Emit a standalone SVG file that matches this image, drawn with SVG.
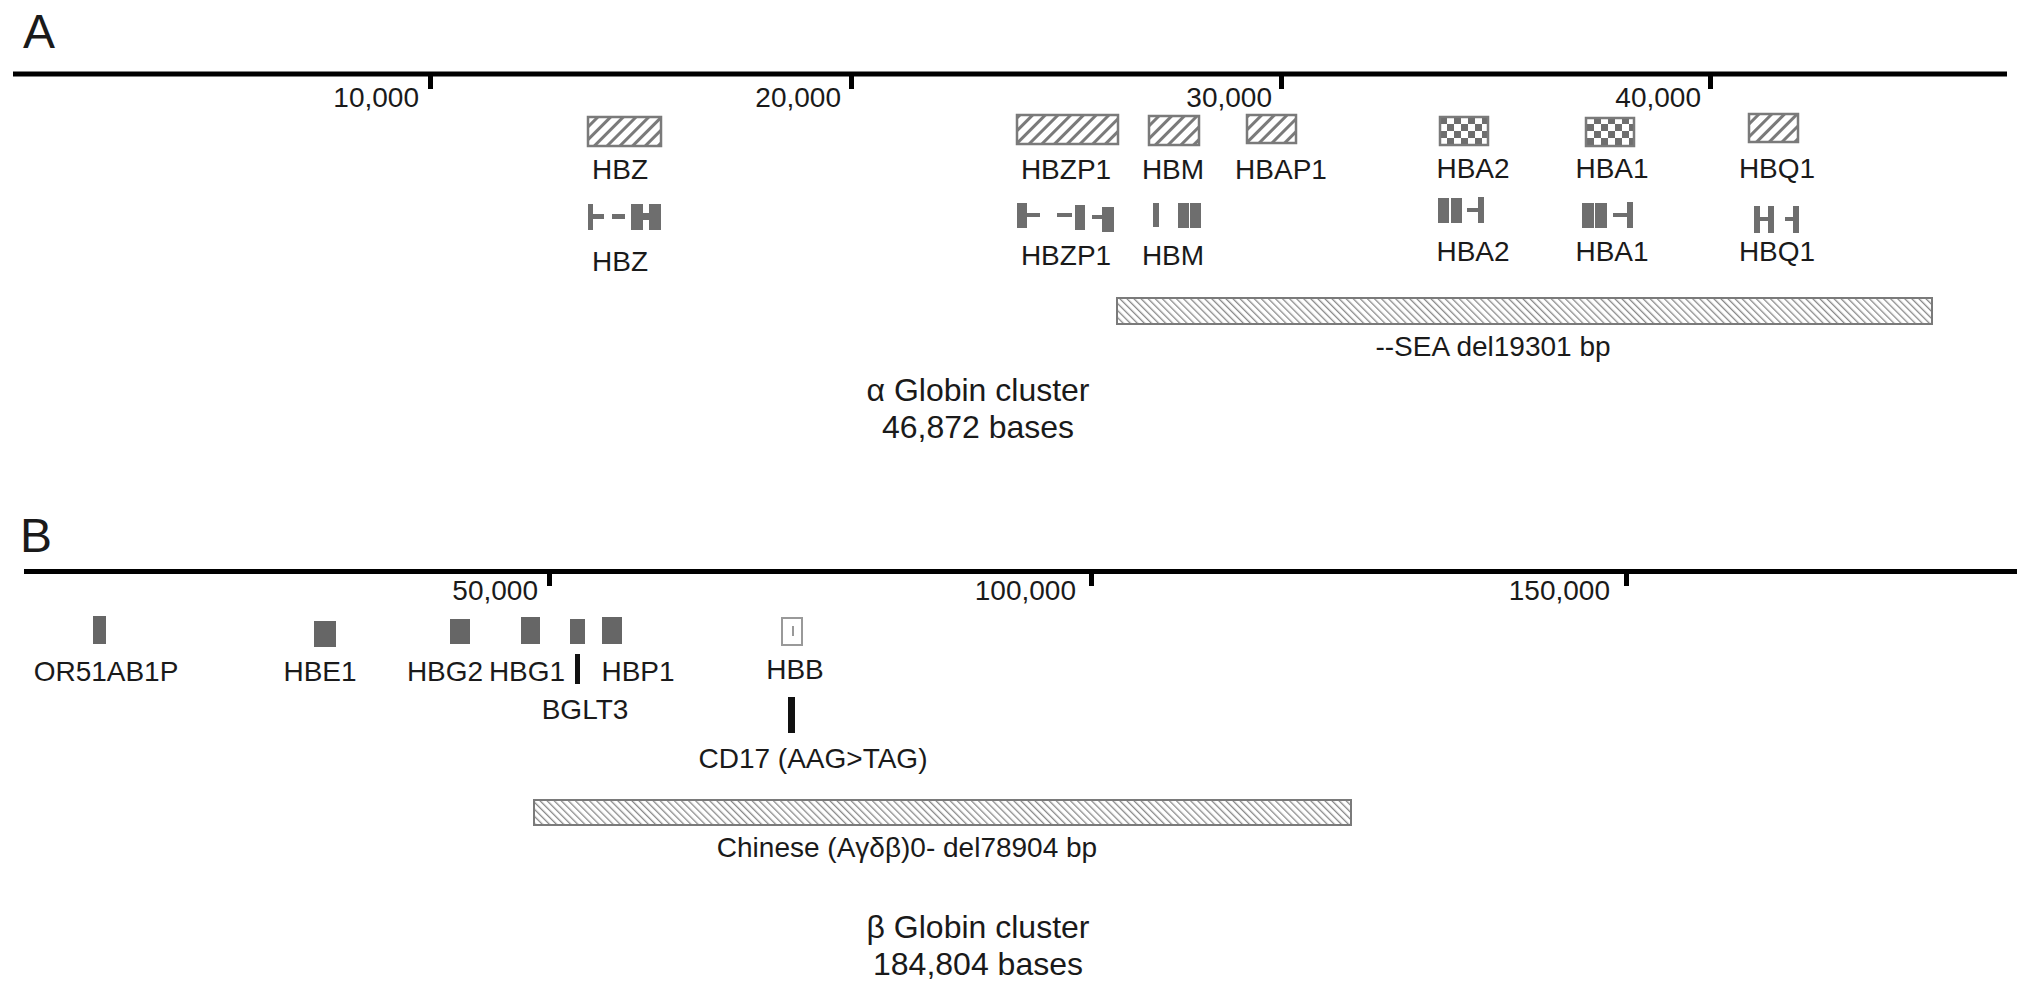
<svg xmlns="http://www.w3.org/2000/svg" width="2032" height="993" viewBox="0 0 2032 993">
<style>
text{font-family:"Liberation Sans",Arial,sans-serif;fill:#1a1a1a}
.lbl{font-size:28px;text-anchor:middle}
.tick{font-size:28px;text-anchor:end}
.panel{font-size:48px}
.title{font-size:32px;text-anchor:middle}
.axis{stroke:#000;stroke-width:5;fill:none}
.tk{fill:#000}
.hbox{fill:url(#hatch);stroke:#7a7a7a;stroke-width:2.5}
.cbox{fill:url(#checker);stroke:#7a7a7a;stroke-width:2.5}
.ex{fill:#6e6e6e}
.gb{fill:#666}
.del{fill:url(#delhatch);stroke:#7a7a7a;stroke-width:2}
.mut{fill:#111}
</style>
<defs>
<pattern id="hatch" patternUnits="userSpaceOnUse" width="9" height="9" patternTransform="rotate(45)">
<rect width="9" height="9" fill="#fff"/>
<rect x="0" y="0" width="3" height="9" fill="#7a7a7a"/>
</pattern>
<pattern id="checker" patternUnits="userSpaceOnUse" width="14" height="14" x="1440" y="117">
<rect width="14" height="14" fill="#fff"/>
<rect x="0" y="0" width="7" height="7" fill="#6e6e6e"/>
<rect x="7" y="7" width="7" height="7" fill="#6e6e6e"/>
</pattern>
<pattern id="delhatch" patternUnits="userSpaceOnUse" width="5" height="5" patternTransform="rotate(-45)">
<rect width="5" height="5" fill="#fff"/>
<rect x="0" y="0" width="1.3" height="5" fill="#8a8a8a"/>
</pattern>
</defs>

<rect width="2032" height="993" fill="#fff"/>

<!-- Panel A -->
<text class="panel" x="23" y="48">A</text>
<g id="axisA">
<line class="axis" x1="13" y1="74" x2="2007" y2="74"/>
<rect class="tk" x="428" y="74" width="5" height="15"/>
<rect class="tk" x="849" y="74" width="5" height="15"/>
<rect class="tk" x="1279" y="74" width="5" height="15"/>
<rect class="tk" x="1708" y="74" width="5" height="15"/>
<text class="tick" x="419" y="107">10,000</text>
<text class="tick" x="841" y="107">20,000</text>
<text class="tick" x="1272" y="107">30,000</text>
<text class="tick" x="1701" y="107">40,000</text>
</g>

<g id="HBZ">
<rect class="hbox" x="588" y="117" width="73" height="29"/>
<text class="lbl" x="620" y="179">HBZ</text>
<rect class="ex" x="588" y="204" width="5" height="26"/>
<rect class="ex" x="593" y="214" width="11" height="5"/>
<rect class="ex" x="612" y="214" width="13" height="5"/>
<rect class="ex" x="631" y="204" width="12" height="26"/>
<rect class="ex" x="643" y="213" width="6" height="7"/>
<rect class="ex" x="649" y="204" width="12" height="26"/>
<text class="lbl" x="620" y="271">HBZ</text>
</g>

<g id="HBZP1">
<rect class="hbox" x="1017" y="115" width="101" height="29"/>
<text class="lbl" x="1066" y="179">HBZP1</text>
<rect class="ex" x="1017" y="203" width="10" height="25"/>
<rect class="ex" x="1027" y="213" width="13" height="4"/>
<rect class="ex" x="1057" y="213" width="15" height="4"/>
<rect class="ex" x="1075" y="205" width="10" height="25"/>
<rect class="ex" x="1092" y="215" width="10" height="4"/>
<rect class="ex" x="1102" y="207" width="12" height="25"/>
<text class="lbl" x="1066" y="265">HBZP1</text>
</g>

<g id="HBM">
<rect class="hbox" x="1149" y="116" width="50" height="29"/>
<text class="lbl" x="1173" y="179">HBM</text>
<rect class="ex" x="1153" y="203" width="6" height="24"/>
<rect class="ex" x="1178" y="203" width="11" height="25"/>
<rect class="ex" x="1190" y="203" width="11" height="25"/>
<text class="lbl" x="1173" y="265">HBM</text>
</g>

<g id="HBAP1">
<rect class="hbox" x="1247" y="115" width="49" height="28"/>
<text class="lbl" x="1281" y="179">HBAP1</text>
</g>

<g id="HBA2">
<rect class="cbox" x="1440" y="117" width="48" height="28"/>
<text class="lbl" x="1473" y="178">HBA2</text>
<rect class="ex" x="1438" y="198" width="11" height="25"/>
<rect class="ex" x="1451" y="198" width="11" height="25"/>
<rect class="ex" x="1467" y="208" width="11" height="4"/>
<rect class="ex" x="1478" y="197" width="6" height="26"/>
<text class="lbl" x="1473" y="261">HBA2</text>
</g>

<g id="HBA1">
<rect class="cbox" x="1586" y="118" width="48" height="28"/>
<text class="lbl" x="1612" y="178">HBA1</text>
<rect class="ex" x="1582" y="203" width="12" height="25"/>
<rect class="ex" x="1595" y="203" width="12" height="25"/>
<rect class="ex" x="1613" y="213" width="14" height="4"/>
<rect class="ex" x="1627" y="202" width="6" height="26"/>
<text class="lbl" x="1612" y="261">HBA1</text>
</g>

<g id="HBQ1">
<rect class="hbox" x="1749" y="114" width="49" height="28"/>
<text class="lbl" x="1777" y="178">HBQ1</text>
<rect class="ex" x="1754" y="206" width="6" height="27"/>
<rect class="ex" x="1760" y="217" width="8" height="4"/>
<rect class="ex" x="1768" y="206" width="6" height="27"/>
<rect class="ex" x="1785" y="217" width="8" height="4"/>
<rect class="ex" x="1793" y="206" width="6" height="27"/>
<text class="lbl" x="1777" y="261">HBQ1</text>
</g>

<g id="SEA">
<rect class="del" x="1117" y="298" width="815" height="26"/>
<text class="lbl" x="1493" y="356">--SEA del19301 bp</text>
</g>

<g id="alphaTitle">
<text class="title" x="978" y="401">α Globin cluster</text>
<text class="title" x="978" y="438">46,872 bases</text>
</g>

<!-- Panel B -->
<text class="panel" x="20" y="552">B</text>
<g id="axisB">
<line class="axis" x1="24" y1="571.5" x2="2017" y2="571.5"/>
<rect class="tk" x="547" y="571" width="5" height="15"/>
<rect class="tk" x="1089" y="571" width="5" height="15"/>
<rect class="tk" x="1624" y="571" width="5" height="15"/>
<text class="tick" x="538" y="600">50,000</text>
<text class="tick" x="1076" y="600">100,000</text>
<text class="tick" x="1610" y="600">150,000</text>
</g>

<g id="OR51AB1P">
<rect class="gb" x="93" y="616" width="13" height="28"/>
<text class="lbl" x="106" y="681">OR51AB1P</text>
</g>
<g id="HBE1">
<rect class="gb" x="314" y="621" width="22" height="26"/>
<text class="lbl" x="320" y="681">HBE1</text>
</g>
<g id="HBG2">
<rect class="gb" x="450" y="619" width="20" height="25"/>
<text class="lbl" x="445" y="681">HBG2</text>
</g>
<g id="HBG1">
<rect class="gb" x="521" y="617" width="19" height="27"/>
<text class="lbl" x="527" y="681">HBG1</text>
</g>
<g id="BGLT3">
<rect class="gb" x="570" y="619" width="15" height="25"/>
<rect class="mut" x="575" y="654" width="5" height="30"/>
<text class="lbl" x="585" y="719">BGLT3</text>
</g>
<g id="HBP1">
<rect class="gb" x="602" y="617" width="20" height="27"/>
<text class="lbl" x="638" y="681">HBP1</text>
</g>
<g id="HBB">
<rect x="782" y="618" width="20" height="27" fill="#fff" stroke="#999" stroke-width="2"/>
<rect x="792" y="626" width="2" height="10" fill="#999"/>
<text class="lbl" x="795" y="679">HBB</text>
</g>
<g id="CD17">
<rect class="mut" x="788" y="697" width="7" height="36"/>
<text class="lbl" x="813" y="768">CD17 (AAG&gt;TAG)</text>
</g>

<g id="Chinese">
<rect class="del" x="534" y="800" width="817" height="25"/>
<text class="lbl" x="907" y="857">Chinese (Aγδβ)0- del78904 bp</text>
</g>

<g id="betaTitle">
<text class="title" x="978" y="938">β Globin cluster</text>
<text class="title" x="978" y="975">184,804 bases</text>
</g>

<g id="connectors"></g>
</svg>
